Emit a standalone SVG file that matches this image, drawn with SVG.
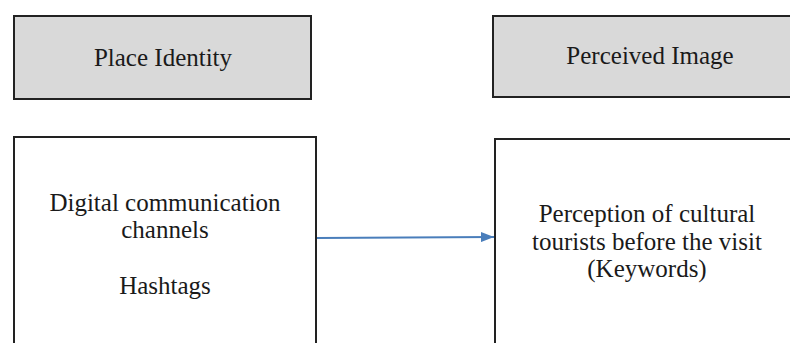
<svg xmlns="http://www.w3.org/2000/svg" width="790" height="343" viewBox="0 0 790 343">
  <defs>
    <style>
      .box { stroke: #222; stroke-width: 2; }
      .hdr { fill: #d9d9d9; }
      .body { fill: #ffffff; }
      text { font-family: "Liberation Serif", "Times New Roman", serif; font-size: 25px; fill: #1a1a1a; text-anchor: middle; }
      .conn { stroke: #4a7ebb; stroke-width: 2; fill: none; }
    </style>
    <marker id="arrow" viewBox="0 0 13 10" refX="13" refY="5" markerWidth="13" markerHeight="10" markerUnits="userSpaceOnUse" orient="auto">
      <path d="M0,0 L13,5 L0,10 z" fill="#4a7ebb"/>
    </marker>
  </defs>
  <rect width="790" height="343" fill="#ffffff"/>
  <g id="place-identity">
    <rect class="box hdr" x="14" y="16" width="297" height="83"/>
    <text x="163" y="66">Place Identity</text>
  </g>
  <g id="perceived-image">
    <rect class="box hdr" x="493" y="16" width="314" height="81"/>
    <text x="650" y="64">Perceived Image</text>
  </g>
  <g id="digital-channels">
    <rect class="box body" x="14" y="137" width="302" height="220"/>
    <text x="165" y="211">Digital communication</text>
    <text x="165" y="238">channels</text>
    <text x="165" y="294">Hashtags</text>
  </g>
  <g id="perception">
    <rect class="box body" x="495" y="139" width="304" height="220"/>
    <text x="647" y="222">Perception of cultural</text>
    <text x="647" y="250">tourists before the visit</text>
    <text x="647" y="277">(Keywords)</text>
  </g>
  <g id="connectors">
    <line class="conn" x1="317" y1="238" x2="494" y2="237" marker-end="url(#arrow)"/>
  </g>
</svg>
